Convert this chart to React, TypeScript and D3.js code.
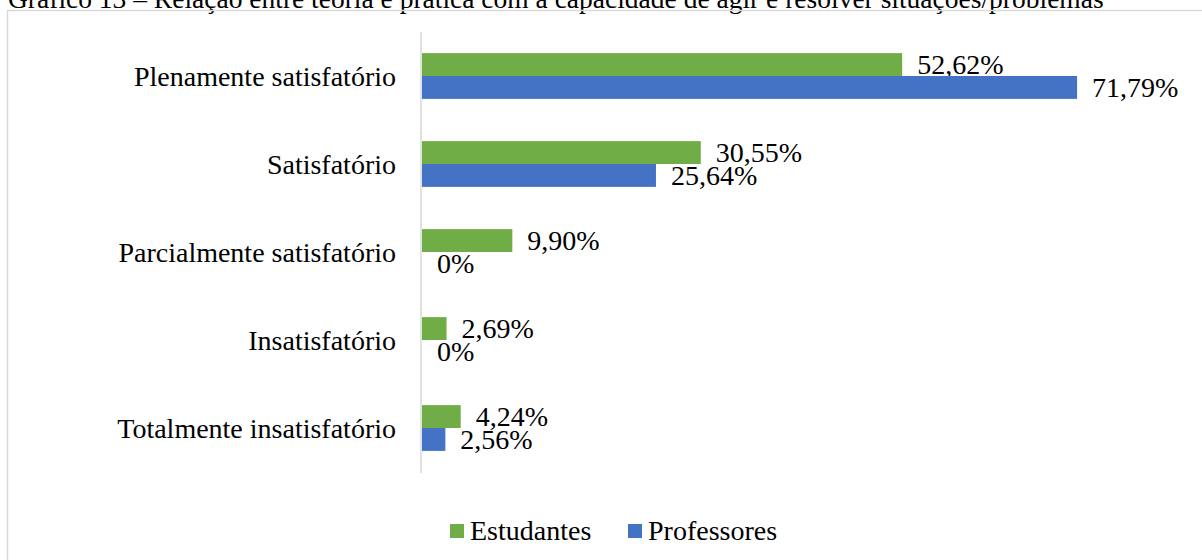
import React from "react";
import * as d3 from "d3";

const categories = [
  "Plenamente satisfatório",
  "Satisfatório",
  "Parcialmente satisfatório",
  "Insatisfatório",
  "Totalmente insatisfatório",
];
const estudantes = [52.62, 30.55, 9.9, 2.69, 4.24];
const professores = [71.79, 25.64, 0, 0, 2.56];
const seriesNames = ["Estudantes", "Professores"];
const seriesColors = ["#70ad47", "#4472c4"];
const title =
  "Gráfico 13 – Relação entre teoria e prática com a capacidade de agir e resolver situações/problemas";

const W = 1202;
const H = 560;
const FONT = "'Liberation Serif', 'Times New Roman', serif";

const fmt = (v: number) =>
  v === 0 ? "0%" : v.toFixed(2).replace(".", ",") + "%";

export default function App() {
  const x = d3.scaleLinear().domain([0, 80]).range([422, 1152]);
  const y = d3
    .scaleBand<string>()
    .domain(categories)
    .range([32, 472])
    .paddingInner(0.48)
    .paddingOuter(0.24);
  const bw = y.bandwidth() / 2;
  const series = [estudantes, professores];

  return (
    <svg
      width={W}
      height={H}
      style={{ position: "absolute", left: 0, top: 0, background: "#fff" }}
      fontFamily={FONT}
    >
      <rect x={0} y={0} width={W} height={H} fill="#fff" />
      <text x={8} y={8} fontSize={27.5} fill="#000">
        {title}
      </text>
      <rect
        x={7.5}
        y={10.5}
        width={W + 20}
        height={H + 20}
        fill="none"
        stroke="#d9d9d9"
        strokeWidth={1.5}
      />
      {series.map((vals, si) =>
        categories.map((c, i) => {
          const y0 = (y(c) as number) + si * bw;
          return (
            <g key={`${si}-${i}`}>
              <rect
                x={x(0)}
                y={y0}
                width={x(vals[i]) - x(0)}
                height={bw}
                fill={seriesColors[si]}
              />
              <text
                x={x(vals[i]) + 15}
                y={y0 + bw / 2 + 9.5}
                fontSize={28}
                fill="#000"
              >
                {fmt(vals[i])}
              </text>
            </g>
          );
        })
      )}
      <line
        x1={421}
        x2={421}
        y1={32}
        y2={473}
        stroke="#d9d9d9"
        strokeWidth={1.5}
      />
      {categories.map((c) => (
        <text
          key={c}
          x={396}
          y={(y(c) as number) + y.bandwidth() / 2 + 9.5}
          fontSize={28}
          textAnchor="end"
          fill="#000"
        >
          {c}
        </text>
      ))}
      {seriesNames.map((n, i) => {
        const lx = [450, 628][i];
        return (
          <g key={n}>
            <rect x={lx} y={524} width={14} height={14} fill={seriesColors[i]} />
            <text x={lx + 20} y={540} fontSize={28} fill="#000">
              {n}
            </text>
          </g>
        );
      })}
    </svg>
  );
}
